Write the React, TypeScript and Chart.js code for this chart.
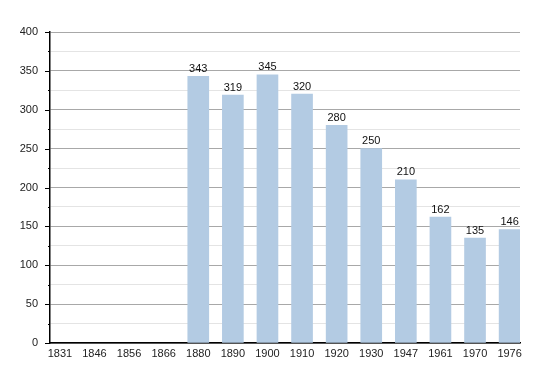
import React, { useEffect, useRef } from "react";
import { Chart, registerables } from "chart.js";

Chart.register(...registerables);

const years = ["1831", "1846", "1856", "1866", "1880", "1890", "1900", "1910", "1920", "1930", "1947", "1961", "1970", "1976"];
const population: (number | null)[] = [null, null, null, null, 343, 319, 345, 320, 280, 250, 210, 162, 135, 146];

const FONT = "'Liberation Sans', Arial, sans-serif";

const extrasPlugin = {
  id: "extras",
  afterDatasetsDraw(chart: any) {
    const ctx = chart.ctx;
    const meta = chart.getDatasetMeta(0);
    ctx.save();
    ctx.font = `11px ${FONT}`;
    ctx.fillStyle = "#111";
    ctx.textAlign = "center";
    ctx.textBaseline = "bottom";
    meta.data.forEach((bar: any, i: number) => {
      const v = population[i];
      if (v == null) return;
      ctx.fillText(String(v), bar.x, bar.y - 2);
    });
    // y tick marks
    const y = chart.scales.y;
    const x0 = chart.chartArea.left;
    ctx.strokeStyle = "#000";
    ctx.lineWidth = 1;
    for (let v = 0; v <= 400; v += 25) {
      const py = Math.round(y.getPixelForValue(v)) + 0.5;
      const len = v % 50 === 0 ? 5 : 2;
      ctx.beginPath();
      ctx.moveTo(x0 - len, py);
      ctx.lineTo(x0, py);
      ctx.stroke();
    }
    ctx.restore();
  },
};

export default function App() {
  const ref = useRef<HTMLCanvasElement>(null);
  useEffect(() => {
    const chart = new Chart(ref.current!, {
      type: "bar",
      data: {
        datasets: [
          {
            data: population.map((v, i) => ({ x: i, y: v })) as any,
            backgroundColor: "#b3cbe3",
            barThickness: 21,
          },
        ],
      },
      options: {
        animation: false,
        responsive: false,
        layout: { padding: { top: 32, right: 30, left: 0, bottom: 0 } },
        plugins: { legend: { display: false }, tooltip: { enabled: false } },
        scales: {
          x: {
            type: "linear",
            offset: false,
            min: -0.286,
            max: 13.3,
            afterBuildTicks: (s: any) => {
              s.ticks = years.map((_, i) => ({ value: i }));
            },
            afterFit: (s: any) => {
              s.height = 30;
            },
            grid: { display: false, drawTicks: false, offset: false },
            border: { display: true, color: "#000", width: 1.5 },
            ticks: {
              autoSkip: false,
              maxRotation: 0,
              padding: 4,
              color: "#222",
              font: { family: FONT, size: 11 },
              callback: (v: any) => years[v] ?? "",
            },
          },
          y: {
            min: 0,
            max: 400,
            afterFit: (s: any) => {
              s.width = 50;
            },
            border: { display: true, color: "#000", width: 1.5 },
            grid: {
              drawTicks: false,
              color: (c: any) => (c.tick && c.tick.value % 50 === 0 ? "#a8a8a8" : "#e4e4e4"),
            },
            ticks: {
              stepSize: 25,
              padding: 12,
              color: "#222",
              font: { family: FONT, size: 11 },
              callback: (v: any) => (v % 50 === 0 ? String(v) : ""),
            },
          },
        },
      },
      plugins: [extrasPlugin],
    });
    return () => chart.destroy();
  }, []);
  return (
    <div style={{ position: "absolute", left: 0, top: 0, width: 550, height: 373, background: "#fff" }}>
      <canvas ref={ref} width={550} height={373} style={{ width: 550, height: 373 }} />
    </div>
  );
}
